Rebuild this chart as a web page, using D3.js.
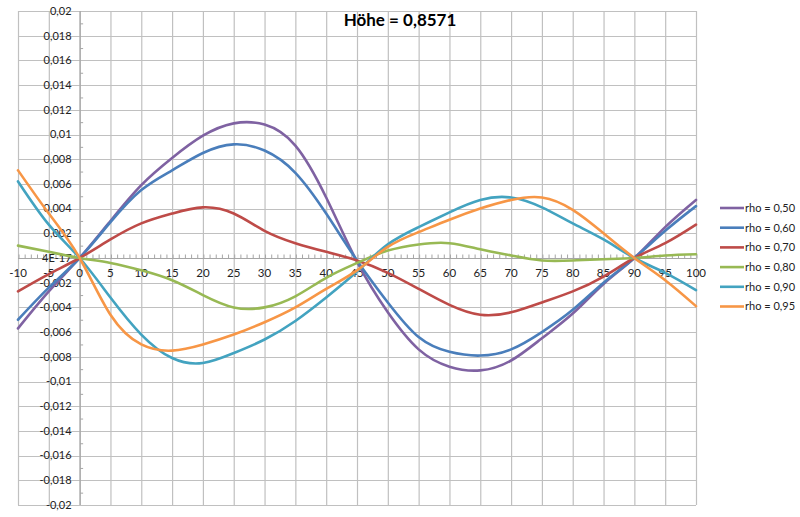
<!DOCTYPE html>
<html><head><meta charset="utf-8">
<script src="https://cdn.jsdelivr.net/npm/d3@7"></script>
<style>body{margin:0;background:#fff}svg{display:block}text{font-family:Lato,"Liberation Sans",sans-serif}</style>
</head><body>
<svg id="c" width="800" height="517"></svg>
<script>
const title = "Höhe = 0,8571";
const xValues = [-10,-5,0,5,10,15,20,25,30,35,40,45,50,55,60,65,70,75,80,85,90,95,100];
const seriesNames = ["rho = 0,50","rho = 0,60","rho = 0,70","rho = 0,80","rho = 0,90","rho = 0,95"];
const colors = ["#7F62A2","#4A7EBB","#BE4B48","#98B954","#43A3C0","#F79646"];
const rho050 = [-0.0057,-0.0027,0,0.0030,0.0059,0.0081,0.0099,0.0109,0.0108,0.0091,0.0049,-0.0003,-0.0044,-0.0074,-0.0088,-0.0091,-0.0083,-0.0065,-0.0045,-0.0021,0,0.0025,0.0047];
const rho060 = [-0.0050,-0.0024,0,0.0029,0.0055,0.0071,0.0085,0.0092,0.0087,0.0069,0.0036,-0.0002,-0.0036,-0.0064,-0.0076,-0.0079,-0.0074,-0.0060,-0.0042,-0.0020,0,0.0022,0.0042];
const rho070 = [-0.0027,-0.0013,0,0.0015,0.0028,0.0036,0.0041,0.0036,0.0022,0.0012,0.0005,-0.0002,-0.0012,-0.0025,-0.0038,-0.0046,-0.0044,-0.0036,-0.0027,-0.0015,0,0.0012,0.0027];
const rho080 = [0.0010,0.0005,0,-0.0004,-0.0010,-0.0018,-0.0030,-0.0040,-0.0040,-0.0031,-0.0016,-0.0004,0.0006,0.0011,0.0012,0.0007,0.0002,-0.0002,-0.0002,-0.0001,0,0.0002,0.0003];
const rho090 = [0.0062,0.0027,0,-0.0032,-0.0062,-0.0081,-0.0085,-0.0077,-0.0066,-0.0051,-0.0032,-0.0011,0.0011,0.0025,0.0037,0.0047,0.0049,0.0041,0.0028,0.0015,0,-0.0012,-0.0026];
const rho095 = [0.0071,0.0036,0,-0.0046,-0.0070,-0.0075,-0.0070,-0.0062,-0.0052,-0.0040,-0.0025,-0.0010,0.0009,0.0021,0.0031,0.0040,0.0047,0.0049,0.0039,0.0020,0,-0.0018,-0.0039];
const seriesValues = [rho050,rho060,rho070,rho080,rho090,rho095];
const xTicks = d3.range(-10, 101, 5);
const yTicks = d3.range(-0.02, 0.02001, 0.002).map(v => Math.round(v*1000)/1000);

const svg = d3.select("#c");
const x = d3.scaleLinear().domain([-10,100]).range([18,696]);
const y = d3.scaleLinear().domain([-0.02,0.02]).range([505,11]);
const grid = "#c0c0c0";

svg.append("g").selectAll("line").data(xTicks).join("line")
  .attr("x1", d=>x(d)+0.5).attr("x2", d=>x(d)+0.5).attr("y1", y(0.02)).attr("y2", y(-0.02))
  .attr("stroke", grid).attr("stroke-width",1.2);
svg.append("g").selectAll("line").data(yTicks).join("line")
  .attr("y1", d=>Math.round(y(d))+0.5).attr("y2", d=>Math.round(y(d))+0.5).attr("x1", x(-10)).attr("x2", x(100))
  .attr("stroke", grid).attr("stroke-width",1.2);

const yAxis = d3.axisRight(y).tickValues(d3.range(-0.019,0.02,0.002)).tickSize(3).tickFormat("");
const ya = svg.append("g").attr("transform",`translate(${x(0)+0.5},0)`).call(yAxis);
ya.selectAll("line").attr("stroke","#a6a6a6");
ya.select("path").remove();
svg.append("line").attr("x1",x(0)+0.5).attr("x2",x(0)+0.5).attr("y1",y(0.02)).attr("y2",y(-0.02)).attr("stroke","#a6a6a6").attr("stroke-width",1.2);

const xAxis = d3.axisTop(x).tickValues(d3.range(-10,101,1)).tickSize(4).tickFormat("");
const xa = svg.append("g").attr("transform",`translate(0.5,${Math.round(y(0))+0.5})`).call(xAxis);
xa.selectAll("line").attr("stroke","#a6a6a6");
xa.select("path").remove();
svg.append("line").attr("x1",x(-10)).attr("x2",x(100)).attr("y1",Math.round(y(0))+0.5).attr("y2",Math.round(y(0))+0.5).attr("stroke","#a6a6a6").attr("stroke-width",1.2);

const fmtY = d => d===0 ? "4E-17" : String(d).replace(".",",");
svg.append("g").selectAll("text").data(yTicks).join("text")
  .attr("x", x(0)-8).attr("y", d=>y(d)).attr("dy","0.35em").attr("text-anchor","end")
  .attr("font-size",11).attr("fill","#222").text(fmtY);
svg.append("g").selectAll("text").data(xTicks).join("text")
  .attr("x", d=>x(d)).attr("y", y(0)+19).attr("text-anchor","middle")
  .attr("font-size",11.5).attr("fill","#222").text(d=>d);

const line = d3.line().x((d,i)=>x(xValues[i])).y(d=>y(d)).curve(d3.curveNatural);
svg.append("g").selectAll("path").data(seriesValues).join("path")
  .attr("d", d=>line(d)).attr("fill","none").attr("stroke",(d,i)=>colors[i])
  .attr("stroke-width",2.6).attr("stroke-linejoin","round").attr("stroke-linecap","round");

svg.append("text").attr("x",400).attr("y",26).attr("text-anchor","middle")
  .attr("font-size",17).attr("font-weight","bold").attr("fill","#000").text(title);

const lg = svg.append("g").selectAll("g").data(seriesNames).join("g")
  .attr("transform",(d,i)=>`translate(720,${208+i*19.7})`);
lg.append("line").attr("x1",0).attr("x2",24).attr("stroke",(d,i)=>colors[i]).attr("stroke-width",2.6);
lg.append("text").attr("x",25).attr("dy","0.35em").attr("font-size",11).attr("fill","#222").text(d=>d);
</script>
</body></html>
